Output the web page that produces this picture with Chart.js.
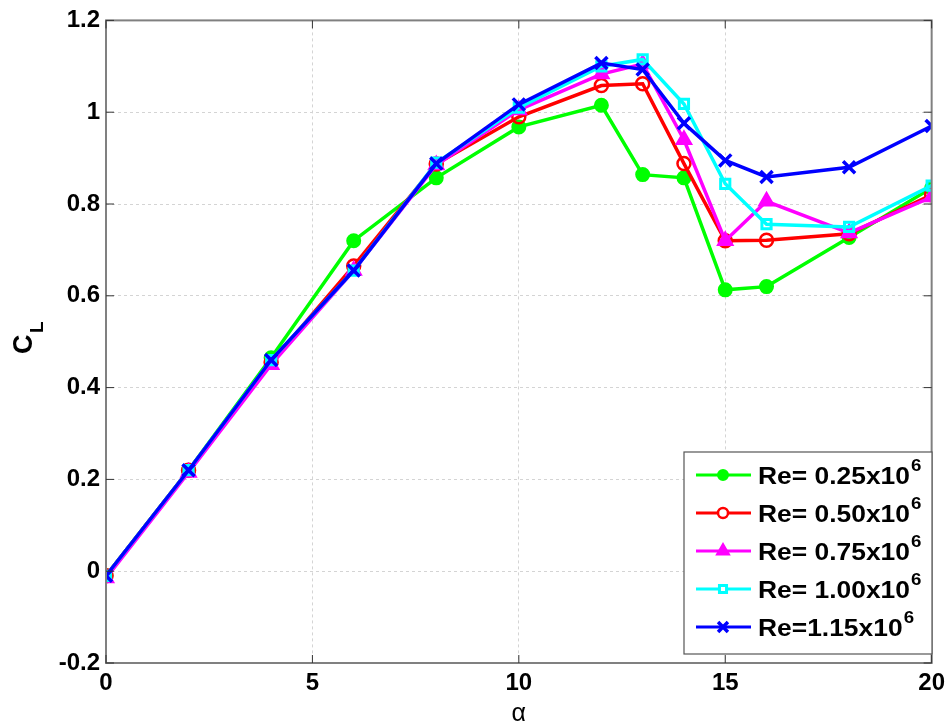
<!DOCTYPE html>
<html>
<head>
<meta charset="utf-8">
<script src="https://cdn.jsdelivr.net/npm/chart.js@4.4.1/dist/chart.umd.min.js"></script>
<style>
  html, body { margin: 0; padding: 0; background: #fff; }
  #wrap { width: 951px; height: 725px; }
</style>
</head>
<body>
<div id="wrap"><canvas id="clChart" width="951" height="725"></canvas></div>
<script>
// angle of attack (deg)
const alpha = [0, 2, 4, 6, 8, 10, 12, 13, 14, 15, 16, 18, 20];

// lift coefficient per Reynolds number
const cl025 = [-0.01, 0.22, 0.465, 0.72, 0.857, 0.968, 1.015, 0.864, 0.857, 0.613, 0.62, 0.727, 0.835];
const cl050 = [-0.01, 0.22, 0.455, 0.665, 0.887, 0.99, 1.058, 1.062, 0.888, 0.72, 0.721, 0.735, 0.82];
const cl075 = [-0.015, 0.215, 0.45, 0.655, 0.885, 1.005, 1.083, 1.105, 0.94, 0.72, 0.806, 0.737, 0.815];
const cl100 = [-0.01, 0.22, 0.46, 0.655, 0.89, 1.01, 1.1, 1.115, 1.018, 0.844, 0.756, 0.75, 0.84];
const cl115 = [-0.01, 0.22, 0.46, 0.655, 0.888, 1.017, 1.107, 1.093, 0.976, 0.895, 0.859, 0.88, 0.97];

const seriesLabels = ['Re= 0.25x10', 'Re= 0.50x10', 'Re= 0.75x10', 'Re= 1.00x10', 'Re=1.15x10'];
const xTicks = [0, 5, 10, 15, 20];
const yTicks = [-0.2, 0, 0.2, 0.4, 0.6, 0.8, 1, 1.2];

const FONT = '"Liberation Sans", Arial, sans-serif';

const toPts = (ys) => alpha.map((a, i) => ({ x: a, y: ys[i] }));

const styles = [
  { color: '#00ff00', pointStyle: 'circle', radius: 6.5, fill: true, bw: 2 },
  { color: '#ff0000', pointStyle: 'circle', radius: 6.5, fill: false, bw: 2.5 },
  { color: '#ff00ff', pointStyle: 'triangle', radius: 8.5, fill: true, bw: 2 },
  { color: '#00ffff', pointStyle: 'rect', radius: 6.5, fill: false, bw: 3 },
  { color: '#0000ff', pointStyle: 'crossRot', radius: 8.5, fill: false, bw: 3.5 },
];

const allSeries = [cl025, cl050, cl075, cl100, cl115];

const datasets = allSeries.map((s, i) => ({
  label: seriesLabels[i],
  data: toPts(s),
  borderColor: styles[i].color,
  backgroundColor: styles[i].fill ? styles[i].color : 'rgba(0,0,0,0)',
  pointBorderColor: styles[i].color,
  pointBackgroundColor: styles[i].fill ? styles[i].color : 'rgba(0,0,0,0)',
  pointStyle: styles[i].pointStyle,
  pointRadius: styles[i].radius,
  pointBorderWidth: styles[i].bw,
  borderWidth: 3.5,
  tension: 0,
  fill: false,
  order: 4 - i,
}));

// box, inner ticks, titles and legend (legend needs superscripts)
const decorPlugin = {
  id: 'decor',
  afterDraw(chart) {
    const { ctx, chartArea: a, scales } = chart;
    ctx.save();
    ctx.strokeStyle = '#808080';
    ctx.lineWidth = 2;
    ctx.strokeRect(a.left, a.top, a.right - a.left, a.bottom - a.top);

    ctx.strokeStyle = '#333';
    ctx.lineWidth = 1;
    yTicks.forEach(v => {
      const y = scales.y.getPixelForValue(v);
      ctx.beginPath();
      ctx.moveTo(a.left, y); ctx.lineTo(a.left + 8, y);
      ctx.moveTo(a.right, y); ctx.lineTo(a.right - 8, y);
      ctx.stroke();
    });
    xTicks.forEach(v => {
      const x = scales.x.getPixelForValue(v);
      ctx.beginPath();
      ctx.moveTo(x, a.bottom); ctx.lineTo(x, a.bottom - 8);
      ctx.moveTo(x, a.top); ctx.lineTo(x, a.top + 8);
      ctx.stroke();
    });

    // axis titles
    ctx.fillStyle = '#000';
    ctx.textBaseline = 'alphabetic';
    ctx.textAlign = 'center';
    ctx.font = '25px ' + FONT;
    ctx.fillText('\u03b1', (a.left + a.right) / 2, 721);

    ctx.save();
    ctx.translate(32, 354);
    ctx.rotate(-Math.PI / 2);
    ctx.textAlign = 'left';
    ctx.font = 'bold 27px ' + FONT;
    ctx.fillText('C', 0, 0);
    ctx.font = 'bold 19px ' + FONT;
    ctx.fillText('L', 21, 11);
    ctx.restore();

    // legend
    const lx = 684, ly = 452, lw = 248, lh = 202;
    ctx.fillStyle = '#fff';
    ctx.fillRect(lx, ly, lw, lh);
    ctx.strokeStyle = '#555';
    ctx.lineWidth = 1.2;
    ctx.strokeRect(lx, ly, lw, lh);

    seriesLabels.forEach((lab, i) => {
      const st = styles[i];
      const cy = ly + 23 + i * 38;
      ctx.strokeStyle = st.color;
      ctx.lineWidth = 3;
      ctx.beginPath();
      ctx.moveTo(696, cy); ctx.lineTo(751, cy);
      ctx.stroke();
      ctx.fillStyle = st.fill ? st.color : '#fff';
      ctx.lineWidth = st.bw;
      Chart.helpers.drawPoint(ctx, {
        pointStyle: st.pointStyle,
        radius: st.radius - 1.5,
        borderWidth: st.bw,
      }, 723, cy);

      // text is a bit wider in the original, stretch horizontally
      ctx.save();
      ctx.translate(758, cy + 9);
      ctx.scale(1.1, 1);
      ctx.fillStyle = '#000';
      ctx.textAlign = 'left';
      ctx.font = 'bold 24px ' + FONT;
      ctx.fillText(lab, 0, 0);
      const w = ctx.measureText(lab).width;
      ctx.font = 'bold 17px ' + FONT;
      ctx.fillText('6', w + 1, -13);
      ctx.restore();
    });
    ctx.restore();
  }
};

const tickFont = { family: FONT, size: 24, weight: 'bold' };

new Chart(document.getElementById('clChart').getContext('2d'), {
  type: 'line',
  data: { datasets },
  options: {
    responsive: false,
    animation: false,
    layout: { padding: { top: 12, right: 17, left: 0, bottom: 0 } },
    scales: {
      x: {
        type: 'linear',
        min: 0,
        max: 20,
        afterBuildTicks: (s) => { s.ticks = xTicks.map(v => ({ value: v })); },
        afterFit: (s) => { s.height = 62; },
        border: { display: false, dash: [3, 3] },
        grid: { color: '#d4d4d4', drawTicks: false, lineWidth: 1 },
        ticks: { color: '#000', padding: 6, font: tickFont },
      },
      y: {
        min: -0.2,
        max: 1.2,
        afterBuildTicks: (s) => { s.ticks = yTicks.map(v => ({ value: v })); },
        afterFit: (s) => { s.width = 106; },
        border: { display: false, dash: [3, 3] },
        grid: { color: '#d4d4d4', drawTicks: false, lineWidth: 1 },
        ticks: {
          color: '#000',
          padding: 6,
          font: tickFont,
          callback: (v) => String(Number(v.toFixed(1))),
        },
      },
    },
    plugins: {
      legend: { display: false },
      tooltip: { enabled: false },
    },
  },
  plugins: [decorPlugin],
});
</script>
</body>
</html>
